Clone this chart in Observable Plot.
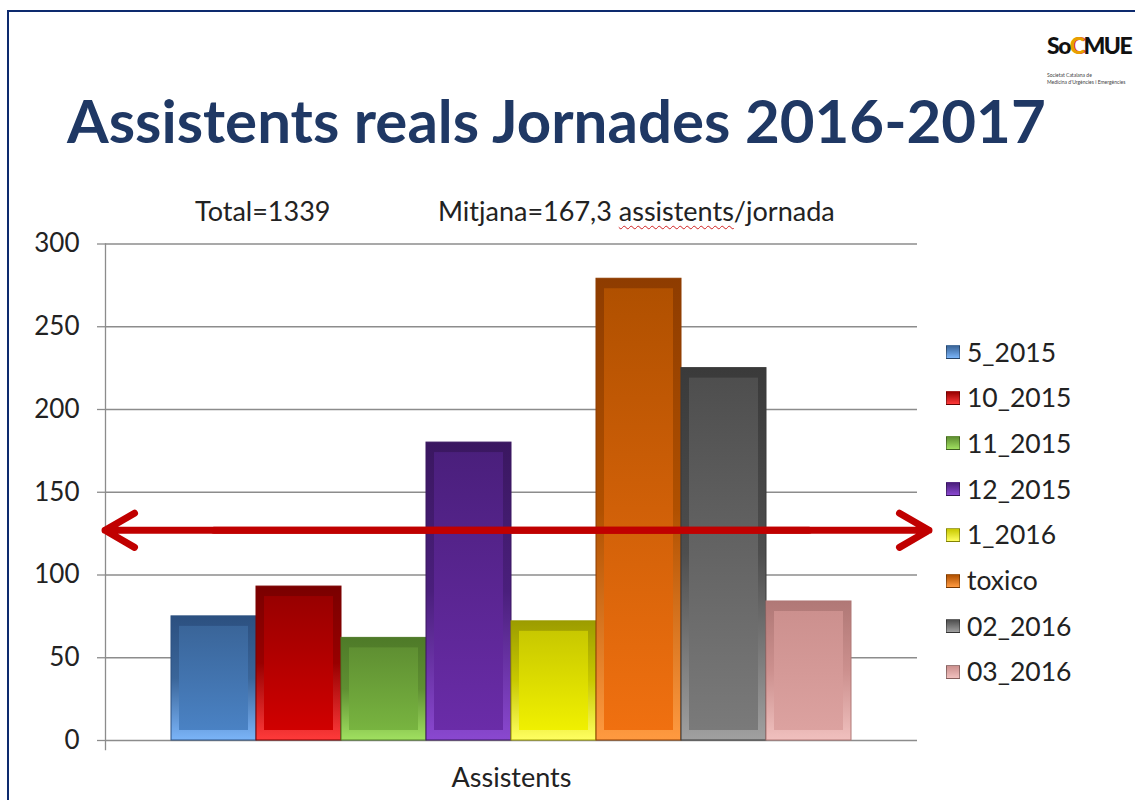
<!DOCTYPE html>
<html>
<head>
<meta charset="utf-8">
<script src="https://cdn.jsdelivr.net/npm/d3@7"></script>
<script src="https://cdn.jsdelivr.net/npm/@observablehq/plot@0.6"></script>
<style>
  body { margin: 0; background: #fff; }
  #page { position: relative; width: 1135px; height: 800px; overflow: hidden; font-family: Lato, "Open Sans", sans-serif; color: #222; }
  .abs { position: absolute; white-space: nowrap; }
  .wavy { text-decoration: underline wavy #d02020; text-decoration-thickness: 1px; text-underline-offset: 4px; }
  .legend-item { position: absolute; left: 946px; font-size: 26.5px; line-height: 27px; display: flex; align-items: center; }
  .legend-item .sw { width: 12px; height: 12px; margin-right: 7px; border: 1px solid rgba(0,0,0,0.35); }
</style>
</head>
<body>
<div id="page">
  <div class="abs" style="left:7px;top:10px;width:1140px;height:800px;border-left:2px solid #0d2a6e;border-top:2px solid #0d2a6e;"></div>
  <div class="abs" id="logo" style="left:1047px;top:31px;font-weight:900;font-size:23px;letter-spacing:-1.5px;color:#111;">So<span style="color:#e8a000;text-shadow:1px 0 0 #d02020;">C</span>MUE</div>
  <div class="abs" style="left:1047px;top:72px;font-size:5px;line-height:7px;color:#444;">Societat Catalana de<br>Medicina d'Urgències i Emergències</div>
  <div class="abs" id="title" style="left:67px;top:90px;font-weight:700;font-size:60px;line-height:60px;color:#1f3864;">Assistents reals Jornades 2016-2017</div>
  <div class="abs" style="left:195px;top:197px;font-size:27px;line-height:27px;">Total=1339</div>
  <div class="abs" style="left:438px;top:197px;font-size:27px;line-height:27px;">Mitjana=167,3 <span class="wavy">assistents</span>/jornada</div>
  <div class="abs" id="chart" style="left:0;top:200px;"></div>
  <div id="legend"></div>
</div>
<script>
const categories = ["5_2015", "10_2015", "11_2015", "12_2015", "1_2016", "toxico", "02_2016", "03_2016"];
const values = [75, 93, 62, 180, 72, 279, 225, 84];
const meanLevel = 127;
const yTicks = [0, 50, 100, 150, 200, 250, 300];
// [edgeTop, faceTop, faceBottom, edgeBottom]
const palette = [
  ["#2c5080", "#3a6599", "#4a82c4", "#7ab4f8"],
  ["#7a0000", "#980000", "#d00000", "#ff3a3a"],
  ["#4e7a28", "#5f8f32", "#78b440", "#a0e060"],
  ["#3a1760", "#4a1f7c", "#6a2ca8", "#8a48d0"],
  ["#9c9c00", "#c8c800", "#f0f000", "#ffff60"],
  ["#8e3c00", "#b05000", "#f07010", "#ff9a40"],
  ["#3a3a3a", "#4e4e4e", "#7a7a7a", "#a0a0a0"],
  ["#b07876", "#cc908e", "#dca2a0", "#f0c0be"]
];

const data = categories.map((c, i) => ({name: c, value: values[i], i}));

const plot = Plot.plot({
  width: 1135,
  height: 600,
  marginLeft: 105,
  marginRight: 218,
  marginTop: 43.5,
  marginBottom: 60,
  style: {fontFamily: "Lato, 'Open Sans', sans-serif", fontSize: "26px", color: "#222", background: "transparent", overflow: "visible"},
  x: {type: "band", domain: categories, paddingInner: 0, paddingOuter: 0.762, axis: null},
  y: {domain: [0, 300]},
  color: {type: "identity"},
  marks: [
    Plot.gridY(yTicks, {stroke: "#8c8c8c", strokeOpacity: 1, strokeWidth: 1.3}),
    Plot.axisY(yTicks, {tickSize: 8, tickPadding: 18, stroke: "#8c8c8c", strokeWidth: 1.3, fill: "#222", fontSize: 26, label: null}),
    Plot.frame({anchor: "left", stroke: "#8c8c8c", strokeWidth: 1.3, insetBottom: -9}),
    Plot.barY(data, {x: "name", y: "value", fill: d => `url(#go${d.i})`, stroke: d => palette[d.i][0], strokeWidth: 1}),
    Plot.barY(data, {x: "name", y: "value", fill: d => `url(#gi${d.i})`, insetLeft: 8, insetRight: 8, insetTop: 10, insetBottom: 10}),
    Plot.arrow([meanLevel], {x1: () => categories[categories.length - 1], x2: () => categories[0], y1: d => d, y2: d => d,
      stroke: "#c00000", strokeWidth: 7, headLength: 7.3, headAngle: 60, insetEnd: -109}),
    Plot.arrow([meanLevel], {x1: () => categories[0], x2: () => categories[categories.length - 1], y1: d => d, y2: d => d,
      stroke: "#c00000", strokeWidth: 7, headLength: 7.3, headAngle: 60, insetEnd: -120}),
    Plot.text(["Assistents"], {frameAnchor: "bottom", dy: 46, fontSize: 27, fill: "#222"})
  ]
});

const svg = d3.select(plot);
const defs = svg.insert("defs", ":first-child");
palette.forEach(([et, ft, fb, eb], i) => {
  const go = defs.append("linearGradient").attr("id", "go" + i).attr("x1", 0).attr("y1", 0).attr("x2", 0).attr("y2", 1);
  go.append("stop").attr("offset", "0%").attr("stop-color", et);
  go.append("stop").attr("offset", "50%").attr("stop-color", ft);
  go.append("stop").attr("offset", "100%").attr("stop-color", eb);
  const gi = defs.append("linearGradient").attr("id", "gi" + i).attr("x1", 0).attr("y1", 0).attr("x2", 0).attr("y2", 1);
  gi.append("stop").attr("offset", "0%").attr("stop-color", ft);
  gi.append("stop").attr("offset", "100%").attr("stop-color", fb);
});
document.getElementById("chart").appendChild(plot);

const legend = document.getElementById("legend");
categories.forEach((c, i) => {
  const item = document.createElement("div");
  item.className = "legend-item";
  item.style.top = (338.5 + 45.7 * i) + "px";
  const sw = document.createElement("span");
  sw.className = "sw";
  sw.style.background = `linear-gradient(${palette[i][1]}, ${palette[i][3]})`;
  item.appendChild(sw);
  item.appendChild(document.createTextNode(c));
  legend.appendChild(item);
});
</script>
</body>
</html>
